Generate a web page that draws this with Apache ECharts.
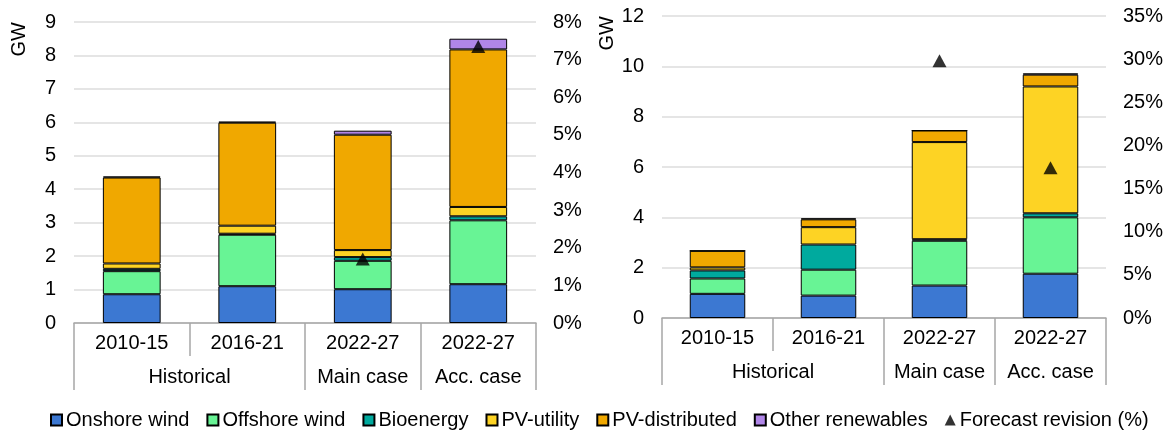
<!DOCTYPE html>
<html>
<head>
<meta charset="utf-8">
<script src="https://cdn.jsdelivr.net/npm/echarts@6/dist/echarts.min.js"></script>
<style>
html,body{margin:0;padding:0;background:#fff;}
#chart{width:1175px;height:430px;}
</style>
</head>
<body>
<div id="chart"></div>
<script>
// ---- data ----
const periods = ['2010-15', '2016-21', '2022-27', '2022-27'];
const groups = ['Historical', 'Main case', 'Acc. case'];
const groupSpans = [2, 1, 1];
const seriesNames = ['Onshore wind', 'Offshore wind', 'Bioenergy', 'PV-utility', 'PV-distributed', 'Other renewables'];
const revisionName = 'Forecast revision (%)';

// Left panel (GW)
const leftOnshore   = [0.86, 1.10, 1.01, 1.16];
const leftOffshore  = [0.69, 1.54, 0.85, 1.91];
const leftBio       = [0.07, 0.03, 0.11, 0.12];
const leftPVutil    = [0.16, 0.24, 0.21, 0.28];
const leftPVdist    = [2.57, 3.08, 3.45, 4.71];
const leftOther     = [0.03, 0.03, 0.12, 0.32];
const leftRevision  = [null, null, 1.70, 7.35];

// Right panel (GW)
const rightOnshore  = [0.96, 0.89, 1.29, 1.76];
const rightOffshore = [0.61, 1.03, 1.78, 2.24];
const rightBio      = [0.32, 1.00, 0.06, 0.16];
const rightPVutil   = [0.12, 0.69, 3.86, 5.04];
const rightPVdist   = [0.66, 0.31, 0.46, 0.47];
const rightOther    = [0.00, 0.04, 0.00, 0.05];
const rightRevision = [null, null, 29.8, 17.4];

// Axis ticks
const leftGW = {min: 0, max: 9, interval: 1};
const leftPct = {min: 0, max: 8, interval: 1};
const rightGW = {min: 0, max: 12, interval: 2};
const rightPct = {min: 0, max: 35, interval: 5};

// ---- styling ----
const colors = ['#3c78d2', '#68f495', '#00aa9e', '#fdd324', '#f0a800', '#b086e8'];
const FONT = 'Liberation Sans, Arial, sans-serif';
const FS = 20;
const gridColor = '#dcdcdc';
const axisGray = '#a6a6a6';

// group boundaries/centres derived from spans
const bounds = [0];
groupSpans.forEach(s => bounds.push(bounds[bounds.length - 1] + s));
const centres = groupSpans.map((s, i) => bounds[i] + s / 2);

const leftData = [leftOnshore, leftOffshore, leftBio, leftPVutil, leftPVdist, leftOther];
const rightData = [rightOnshore, rightOffshore, rightBio, rightPVutil, rightPVdist, rightOther];

function catAxis(gridIndex) {
  return {
    type: 'category', gridIndex, data: periods, position: 'bottom',
    axisLine: {show: true, lineStyle: {color: axisGray, width: 1.5}},
    axisTick: {show: true, interval: 0, alignWithLabel: false, length: 33, lineStyle: {color: axisGray, width: 1.5}},
    axisLabel: {interval: 0, margin: 10, color: '#000', fontSize: FS, fontFamily: FONT},
    splitLine: {show: false}
  };
}
function groupAxis(gridIndex) {
  return {
    type: 'value', gridIndex, min: 0, max: bounds[bounds.length - 1], position: 'bottom',
    axisLine: {show: false},
    axisTick: {show: true, customValues: bounds, length: 67, lineStyle: {color: axisGray, width: 1.5}},
    axisLabel: {customValues: centres, margin: 44, color: '#000', fontSize: FS, fontFamily: FONT,
      formatter: v => { const i = centres.indexOf(v); return i >= 0 ? groups[i] : ''; }},
    splitLine: {show: false}
  };
}
function gwAxis(gridIndex, t) {
  return {
    type: 'value', gridIndex, position: 'left', min: t.min, max: t.max, interval: t.interval,
    name: 'GW', nameLocation: 'end', nameRotate: 90, nameGap: 0,
    nameTextStyle: {fontSize: FS, fontFamily: FONT, color: '#000', align: 'right', verticalAlign: 'bottom', padding: [0, 0, 45, 0]},
    axisLine: {show: false}, axisTick: {show: false},
    axisLabel: {margin: 18, color: '#000', fontSize: FS, fontFamily: FONT},
    splitLine: {show: true, lineStyle: {color: gridColor, width: 1.5}}
  };
}
function pctAxis(gridIndex, t) {
  return {
    type: 'value', gridIndex, position: 'right', min: t.min, max: t.max, interval: t.interval,
    axisLine: {show: false}, axisTick: {show: false},
    axisLabel: {margin: 17, color: '#000', fontSize: FS, fontFamily: FONT, formatter: '{value}%'},
    splitLine: {show: false}
  };
}

const series = [];
[[leftData, 0, 0, 'L'], [rightData, 2, 2, 'R']].forEach(([dataSet, xi, yi, stack]) => {
  dataSet.forEach((arr, k) => {
    series.push({
      name: seriesNames[k], type: 'bar', stack, xAxisIndex: xi, yAxisIndex: yi,
      barWidth: '50%', data: arr,
      itemStyle: {color: colors[k], borderColor: '#000', borderWidth: 1},
      emphasis: {disabled: true}
    });
  });
});
series.push({name: revisionName, type: 'scatter', xAxisIndex: 0, yAxisIndex: 1, data: leftRevision,
  symbol: 'triangle', symbolSize: [14, 13], itemStyle: {color: '#000'}, z: 10});
series.push({name: revisionName, type: 'scatter', xAxisIndex: 2, yAxisIndex: 3, data: rightRevision,
  symbol: 'triangle', symbolSize: [14, 13], itemStyle: {color: '#000'}, z: 10});

const legendData = seriesNames.map(n => ({name: n, icon: 'rect'}));
legendData.push({name: revisionName, icon: 'triangle', itemStyle: {color: '#000', borderWidth: 0}});

const option = {
  animation: false,
  backgroundColor: '#fff',
  textStyle: {fontFamily: FONT},
  legend: {
    data: legendData, left: 45, top: 405, itemWidth: 11, itemHeight: 11, itemGap: 17,
    textStyle: {fontSize: FS, fontFamily: FONT, color: '#000', padding: [0, 0, 0, -1]},
    selectedMode: false
  },
  grid: [
    {left: 74, top: 22, width: 462, height: 301},
    {left: 662, top: 16, width: 444, height: 302}
  ],
  xAxis: [catAxis(0), groupAxis(0), catAxis(1), groupAxis(1)],
  yAxis: [gwAxis(0, leftGW), pctAxis(0, leftPct), gwAxis(1, rightGW), pctAxis(1, rightPct)],
  series
};

const chart = echarts.init(document.getElementById('chart'), null, {renderer: 'canvas'});
chart.setOption(option);
</script>
</body>
</html>
